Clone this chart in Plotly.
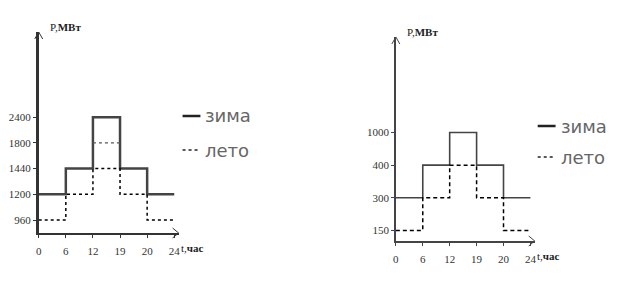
import plotly.graph_objects as go

# ---- data -------------------------------------------------------------
hours = [0, 6, 12, 19, 20, 24]

left_levels = [960, 1200, 1440, 1800, 2400]
left_winter = [1200, 1440, 2400, 1440, 1200, 1200]
left_summer = [960, 1200, 1440, 1200, 960, 960]
left_extra_hours = [12, 19]
left_extra = [1800, 1800]

right_levels = [150, 300, 400, 1000]
right_winter = [300, 400, 1000, 400, 300, 300]
right_summer = [150, 300, 400, 300, 150, 150]

legend_labels = ["зима", "лето"]
y_title = "P,<b>МВт</b>"
x_title = "t,<b>час</b>"


def s(vals):
    return [str(v) for v in vals]


W, H = 628, 285
fig = go.Figure()

# left chart
fig.add_trace(go.Scatter(x=s(hours), y=s(left_winter), mode="lines",
                         line=dict(shape="hv", color="#444", width=2.5),
                         xaxis="x", yaxis="y", showlegend=False, cliponaxis=False))
fig.add_trace(go.Scatter(x=s(hours), y=s(left_summer), mode="lines",
                         line=dict(shape="hv", color="#000", width=1.5, dash="3px,3px"),
                         xaxis="x", yaxis="y", showlegend=False, cliponaxis=False))
fig.add_trace(go.Scatter(x=s(left_extra_hours), y=s(left_extra), mode="lines",
                         line=dict(color="#555", width=1.2, dash="3px,3px"),
                         xaxis="x", yaxis="y", showlegend=False, cliponaxis=False))

# right chart
fig.add_trace(go.Scatter(x=s(hours), y=s(right_winter), mode="lines",
                         line=dict(shape="hv", color="#444", width=1.6),
                         xaxis="x2", yaxis="y2", showlegend=False, cliponaxis=False))
fig.add_trace(go.Scatter(x=s(hours), y=s(right_summer), mode="lines",
                         line=dict(shape="hv", color="#000", width=1.5, dash="4px,3px"),
                         xaxis="x2", yaxis="y2", showlegend=False, cliponaxis=False))

tickfont = dict(family="Liberation Serif", size=11, color="#333")


def xaxis_cfg(domain, anchor, lw, color):
    return dict(type="category", categoryarray=s(hours), categoryorder="array",
                range=[0, 5.16], domain=domain, anchor=anchor,
                showline=True, linecolor=color, linewidth=lw,
                ticks="outside", ticklen=3, tickwidth=1, tickcolor=color,
                ticklabelstandoff=4,
                showgrid=False, zeroline=False, tickfont=tickfont, fixedrange=True)


def yaxis_cfg(levels, rng, domain, anchor, lw, color):
    return dict(type="category", categoryarray=s(levels), categoryorder="array",
                range=rng, domain=domain, anchor=anchor,
                showline=True, linecolor=color, linewidth=lw,
                ticks="outside", ticklen=3, tickwidth=1, tickcolor=color,
                showgrid=False, zeroline=False, tickfont=tickfont, fixedrange=True)


fig.update_layout(
    width=W, height=H,
    margin=dict(l=0, r=0, t=0, b=0),
    paper_bgcolor="white", plot_bgcolor="white",
    showlegend=False,
    xaxis=xaxis_cfg([36 / W, 177 / W], "y", 2, "#333"),
    yaxis=yaxis_cfg(left_levels, [-0.506, 7.315], [1 - 233 / H, 1 - 32 / H], "x", 2.5, "#333"),
    xaxis2=xaxis_cfg([396 / W, 536 / W], "y2", 1.5, "#444"),
    yaxis2=yaxis_cfg(right_levels, [-0.325, 5.93], [1 - 241 / H, 1 - 37 / H], "x2", 1.5, "#444"),
)

annotations = []
shapes = []

for xr, yr, color in (("x", "y", "#333"), ("x2", "y2", "#444")):
    # axis titles
    annotations.append(dict(text=y_title, xref=f"{xr} domain", yref=f"{yr} domain",
                            x=0, y=1, xanchor="left", yanchor="middle",
                            xshift=9, yshift=5, showarrow=False,
                            font=dict(family="Liberation Serif", size=11, color="#222")))
    annotations.append(dict(text=x_title, xref=f"{xr} domain", yref=f"{yr} domain",
                            x=1, y=0, xanchor="left", yanchor="top",
                            xshift=0, yshift=-7, showarrow=False,
                            font=dict(family="Liberation Serif", size=11, color="#222")))
    # arrow heads
    shapes.append(dict(type="path", xref=f"{xr} domain", yref=f"{yr} domain",
                       xsizemode="pixel", ysizemode="pixel", xanchor=0, yanchor=1,
                       path="M-4,-7 L0,0 L4,-7", line=dict(color=color, width=1)))
    shapes.append(dict(type="path", xref=f"{xr} domain", yref=f"{yr} domain",
                       xsizemode="pixel", ysizemode="pixel", xanchor=1, yanchor=0,
                       path="M-6,5 L0,0 L-6,-5", line=dict(color=color, width=1)))

# custom legends
legend_specs = [
    (181, 199, 116, 150),
    (539, 557, 126, 157),
]
for x0, x1, yw, ys in legend_specs:
    shapes.append(dict(type="line", xref="paper", yref="paper",
                       x0=x0 / W, x1=x1 / W, y0=1 - yw / H, y1=1 - yw / H,
                       line=dict(color="#222", width=2.5)))
    shapes.append(dict(type="line", xref="paper", yref="paper",
                       x0=x0 / W, x1=x1 / W, y0=1 - ys / H, y1=1 - ys / H,
                       line=dict(color="#222", width=1.5, dash="dot")))
    for label, yy in zip(legend_labels, (yw, ys)):
        annotations.append(dict(text=label, xref="paper", yref="paper",
                                x=(x1 + 3) / W, y=1 - yy / H,
                                xanchor="left", yanchor="middle", showarrow=False,
                                font=dict(family="DejaVu Sans", size=18, color="#666")))

fig.update_layout(annotations=annotations, shapes=shapes)
fig.write_html("out.html")
